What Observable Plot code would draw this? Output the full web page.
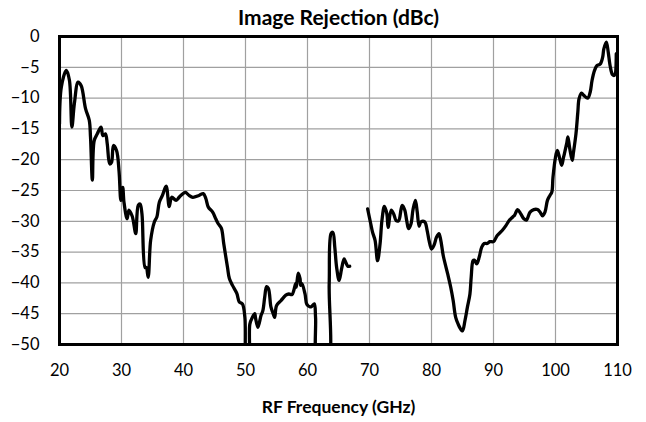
<!DOCTYPE html>
<html>
<head>
<meta charset="utf-8">
<script src="https://cdn.jsdelivr.net/npm/d3@7"></script>
<script src="https://cdn.jsdelivr.net/npm/@observablehq/plot@0.6"></script>
<style>
  html, body { margin: 0; padding: 0; background: #fff; }
  #chart svg { display: block; }
</style>
</head>
<body>
<div id="chart"></div>
<script>
const titleText = "Image Rejection (dBc)";
const xLabel = "RF Frequency (GHz)";
const xTicks = [20, 30, 40, 50, 60, 70, 80, 90, 100, 110];
const yTicks = [0, -5, -10, -15, -20, -25, -30, -35, -40, -45, -50];

// Segment 1 (20–67 GHz)
const freq1 = [20.0, 20.3, 21.1, 21.6, 22.0, 22.4, 23.0, 23.5, 24.2, 24.8, 25.0, 25.3, 25.6, 26.1, 26.7, 27.0, 27.4, 27.7, 28.1, 28.4, 28.7, 29.2, 29.6, 29.9, 30.2, 30.4, 30.9, 31.2, 31.7, 31.9, 32.3, 32.7, 33.0, 33.3, 33.8, 34.0, 34.3, 34.7, 35.3, 35.7, 36.1, 36.6, 37.2, 37.7, 38.1, 38.8, 39.3, 39.8, 40.3, 40.9, 41.5, 42.5, 43.2, 43.6, 44.0, 44.7, 45.2, 45.6, 46.1, 46.5, 47.1, 47.4, 47.9, 48.6, 49.0, 49.5, 49.9, 50.2, 50.5, 50.7, 51.1, 51.5, 51.6, 52.0, 52.5, 52.8, 53.1, 53.4, 53.7, 54.1, 54.4, 54.7, 55.0, 55.7, 56.5, 57.0, 57.5, 57.8, 58.1, 58.2, 58.5, 58.8, 58.9, 59.1, 59.6, 59.9, 60.4, 60.7, 61.1, 61.3, 61.7, 63.2, 63.5, 63.8, 64.1, 64.4, 64.7, 65.1, 65.5, 65.9, 66.1, 66.5, 66.8];
const rej1 = [-14.2, -8.2, -5.5, -7.1, -14.7, -10.9, -7.4, -8.0, -11.7, -13.6, -16.3, -23.3, -16.9, -15.8, -14.7, -16.1, -15.8, -17.4, -20.7, -20.4, -17.7, -18.5, -21.8, -26.6, -24.5, -26.9, -29.6, -28.2, -29.1, -29.9, -32.0, -27.4, -27.2, -28.8, -37.5, -37.5, -39.1, -33.1, -30.1, -29.3, -26.9, -25.8, -24.3, -27.6, -26.1, -26.6, -26.1, -25.6, -25.3, -25.8, -26.1, -25.8, -25.5, -26.3, -27.7, -28.5, -29.6, -30.4, -31.1, -33.7, -37.5, -39.3, -40.4, -41.7, -43.1, -43.4, -45.6, -53.0, -53.0, -46.7, -45.6, -45.0, -45.6, -47.2, -45.3, -44.5, -42.3, -40.6, -40.9, -43.9, -44.8, -45.6, -43.7, -42.9, -42.0, -41.8, -41.9, -41.2, -40.1, -40.7, -38.4, -39.3, -40.4, -40.1, -41.8, -43.5, -43.9, -43.8, -43.4, -45.6, -53.0, -53.0, -40.2, -32.0, -31.8, -34.2, -37.5, -39.6, -37.7, -36.1, -36.5, -37.3, -37.3];

// Segment 2 (70–110 GHz)
const freq2 = [69.7, 70.2, 70.5, 70.9, 71.3, 71.7, 72.0, 72.4, 72.8, 73.0, 73.5, 73.9, 74.3, 74.7, 75.1, 75.3, 75.7, 76.0, 76.3, 76.7, 77.0, 77.4, 77.7, 78.0, 78.3, 78.9, 79.3, 79.6, 80.0, 80.4, 80.8, 81.2, 81.5, 81.9, 82.6, 83.1, 83.5, 83.9, 84.3, 84.7, 85.0, 85.4, 85.8, 86.2, 86.4, 86.7, 86.9, 87.3, 87.7, 88.1, 88.5, 89.0, 89.4, 90.0, 90.6, 91.4, 92.0, 92.5, 93.1, 93.4, 93.9, 94.4, 94.9, 95.3, 95.9, 96.5, 97.1, 97.5, 97.9, 98.3, 98.7, 99.1, 99.4, 99.6, 100.0, 100.3, 100.7, 101.0, 101.3, 101.8, 102.0, 102.3, 102.7, 102.9, 103.3, 103.6, 103.8, 104.2, 104.6, 105.2, 105.6, 105.9, 106.3, 106.7, 107.2, 107.6, 107.8, 108.2, 108.5, 108.8, 109.2, 109.5, 109.8];
const rej2 = [-28.0, -30.4, -31.8, -33.1, -36.4, -33.7, -29.9, -27.6, -28.8, -31.0, -28.2, -28.8, -29.9, -29.9, -28.0, -27.4, -28.2, -29.9, -31.2, -30.4, -28.2, -26.6, -28.5, -30.8, -30.1, -30.1, -31.5, -33.1, -34.5, -33.9, -32.6, -32.0, -33.1, -35.6, -38.5, -40.7, -42.9, -45.6, -46.7, -47.5, -47.8, -46.1, -43.9, -41.8, -39.1, -36.4, -36.3, -36.9, -35.8, -34.2, -33.6, -33.6, -33.3, -33.3, -32.3, -31.5, -30.7, -29.9, -29.3, -29.0, -28.1, -28.8, -29.6, -29.8, -28.5, -28.1, -28.1, -28.5, -29.1, -28.5, -26.6, -25.8, -25.3, -22.8, -19.6, -18.5, -19.9, -20.9, -19.6, -17.4, -16.3, -18.2, -20.1, -18.8, -15.8, -12.3, -10.1, -9.2, -9.6, -10.0, -9.0, -7.1, -5.5, -4.7, -4.5, -3.4, -2.0, -0.9, -2.5, -4.7, -6.2, -6.3, -2.8];

const seg1 = freq1.map((f, i) => ({f, v: rej1[i]}));
const seg2 = freq2.map((f, i) => ({f, v: rej2[i]}));

const font = "Lato, 'Open Sans', sans-serif";

const chart = Plot.plot({
  width: 646,
  height: 422,
  marginLeft: 59,
  marginRight: 29,
  marginTop: 36,
  marginBottom: 78,
  style: {fontFamily: font, fontSize: "16px", color: "#000", background: "#fff"},
  x: {domain: [20, 110], ticks: xTicks, label: null},
  y: {domain: [-50, 0], ticks: yTicks, label: null},
  marks: [
    Plot.gridX(xTicks, {stroke: "#a0a0a0", strokeOpacity: 1, strokeWidth: 1.2}),
    Plot.gridY(yTicks, {stroke: "#a0a0a0", strokeOpacity: 1, strokeWidth: 1.2}),
    Plot.axisX({ticks: xTicks, tickSize: 0, tickPadding: 20, fontSize: 16.5, label: null}),
    Plot.axisY({ticks: yTicks, tickSize: 0, tickPadding: 20, fontSize: 16.5, label: null}),
    Plot.line(seg1, {x: "f", y: "v", stroke: "#000", strokeWidth: 3.3, curve: "catmull-rom", clip: true, strokeLinejoin: "round"}),
    Plot.line(seg2, {x: "f", y: "v", stroke: "#000", strokeWidth: 3.3, curve: "catmull-rom", clip: true, strokeLinejoin: "round"}),
    Plot.frame({stroke: "#000", strokeWidth: 3}),
    Plot.text([titleText], {frameAnchor: "top", lineAnchor: "middle", dy: -18, fontSize: 21, fontWeight: "bold", fill: "#000"}),
    Plot.text([xLabel], {frameAnchor: "bottom", lineAnchor: "middle", dy: 63, fontSize: 17.5, fontWeight: "bold", fill: "#000"})
  ]
});
document.getElementById("chart").appendChild(chart);
</script>
</body>
</html>
